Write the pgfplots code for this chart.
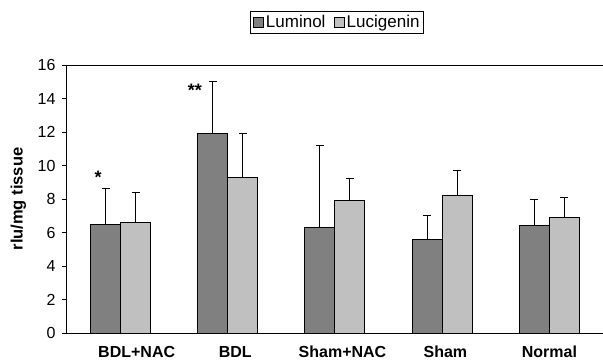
\documentclass[border=0pt]{standalone}
\usepackage{fontspec}
\setmainfont{Liberation Sans}
\usepackage{pgfplots}
\pgfplotsset{compat=1.18}
\definecolor{lum}{RGB}{128,128,128}
\definecolor{luc}{RGB}{192,192,192}
\begin{document}
\begin{tikzpicture}
\begin{axis}[
  scale only axis, width=536pt, height=268pt,
  at={(0,0)}, anchor=south west,
  xmin=-0.5, xmax=4.5, ymin=0, ymax=16,
  ytick={0,2,...,16},
  xtick={0.15,1.07,2.07,3.03,4.0},
  xticklabels={BDL+NAC,BDL,Sham+NAC,Sham,Normal},
  xticklabel style={font=\fontsize{16}{16}\selectfont\bfseries, anchor=center, yshift=-14pt, inner sep=1pt},
  major x tick style={draw=none},
  axis x line=bottom, axis y line=left,
  axis line style={-, line width=1pt},
  /pgf/number format/assume math mode=true,
  yticklabel style={font=\fontsize{16}{16}\selectfont, xshift=-3pt},
  tick align=outside, major tick length=5pt,
  major y tick style={line width=0.8pt, black},
  ylabel={rlu/mg tissue},
  ylabel style={font=\fontsize{16.5}{16.5}\selectfont\bfseries, at={(axis description cs:-0.0905,0.5)}, anchor=center},
  ybar=0pt, bar width=30pt,
  legend columns=2,
  legend style={at={(0.504,1.2015)}, anchor=north, draw=black, line width=0.8pt,
    font=\fontsize{17}{17}\selectfont, inner sep=2pt,
    /tikz/every even column/.append style={column sep=6pt}},
  legend image code/.code={\draw[line width=1.2pt, draw=black, #1] (0pt,-5pt) rectangle (10pt,5pt);},
  clip=false,
]
\addplot[fill=lum, draw=black, line width=1pt,
  error bars/.cd, y dir=plus, y explicit,
  error bar style={line width=1pt, black},
  error mark options={rotate=90, mark size=4pt, line width=1pt, black}]
  table[x=x, y=y, y error=e] {
x y e
0 6.5 2.1
1 11.9 3.1
2 6.3 4.9
3 5.6 1.4
4 6.4 1.6
};
\addplot[fill=luc, draw=black, line width=1pt,
  error bars/.cd, y dir=plus, y explicit,
  error bar style={line width=1pt, black},
  error mark options={rotate=90, mark size=4pt, line width=1pt, black}]
  table[x=x, y=y, y error=e] {
x y e
0 6.6 1.8
1 9.3 2.6
2 7.9 1.3
3 8.2 1.5
4 6.9 1.2
};
\legend{Luminol,Lucigenin}
\draw[line width=1pt] (rel axis cs:0,1) -- (rel axis cs:1,1);
\node[font=\fontsize{18}{18}\selectfont\bfseries] at (axis cs:-0.21,9.3) {*};
\node[font=\fontsize{18}{18}\selectfont\bfseries] at (axis cs:0.694,14.5) {**};
\end{axis}
\pgfresetboundingbox
\path (-67pt,-29pt) rectangle (536pt,333pt);
\end{tikzpicture}
\end{document}
